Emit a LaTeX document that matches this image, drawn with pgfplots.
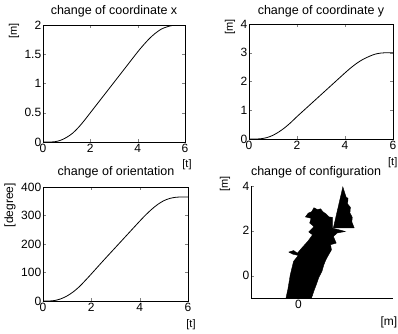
\documentclass[border=0pt]{standalone}
\usepackage{fontspec}
\setmainfont{Liberation Sans}
\usepackage{pgfplots}
\pgfplotsset{compat=1.18}
\pgfplotsset{
  every axis/.append style={
    scale only axis,
    anchor=south west,
    /pgf/number format/assume math mode=true,
    tick label style={font=\fontsize{12}{13}\selectfont},
    xticklabel style={inner sep=1.5pt},
    yticklabel style={inner sep=1.5pt},
    tick align=inside,
    major tick length=3pt,
    line width=0.6pt,
    axis line style={line width=0.8pt},
  },
}
\begin{document}
\begin{tikzpicture}
\path[use as bounding box] (0,0) rectangle (398pt,333pt);
% top left
\begin{axis}[at={(43pt,191pt)}, width=142pt, height=117pt,
  xmin=0, xmax=6, ymin=0, ymax=2,
  xtick={0,2,4,6}, ytick={0,0.5,1,1.5,2}]
\addplot[black, smooth, line width=0.8pt] coordinates {
(0,0) (0.25,0) (0.5,0.005) (0.75,0.03) (1,0.08) (1.25,0.15) (1.5,0.25) (1.75,0.37) (2,0.5) (2.5,0.76) (3,1.02) (3.5,1.28) (4,1.54) (4.25,1.66) (4.5,1.77) (4.75,1.86) (5,1.93) (5.25,1.97) (5.5,1.995) (5.75,2.0) (6,2.0)};
\end{axis}
% top right
\begin{axis}[at={(249pt,194pt)}, width=144pt, height=115pt,
  xmin=0, xmax=6, ymin=0, ymax=4,
  xtick={0,2,4,6}, ytick={0,1,2,3,4}]
\addplot[black, smooth, line width=0.8pt] coordinates {
(0,0) (0.25,0) (0.5,0.01) (0.75,0.05) (1,0.13) (1.25,0.25) (1.5,0.4) (1.75,0.58) (2,0.78) (2.5,1.16) (3,1.54) (3.5,1.92) (4,2.3) (4.25,2.48) (4.5,2.64) (4.75,2.77) (5,2.87) (5.25,2.95) (5.5,2.99) (5.75,3.0) (6,3.0)};
\end{axis}
% bottom left
\begin{axis}[at={(43pt,32pt)}, width=145pt, height=114pt,
  xmin=0, xmax=6, ymin=0, ymax=400,
  xtick={0,2,4,6}, ytick={0,100,200,300,400}]
\addplot[black, smooth, line width=0.8pt] coordinates {
(0,0) (0.25,0) (0.5,2) (0.75,8) (1,18) (1.25,32) (1.5,50) (1.75,72) (2,95) (2.5,142) (3,188) (3.5,234) (4,280) (4.25,302) (4.5,322) (4.75,339) (5,352) (5.25,360) (5.5,364) (5.75,365) (6,365)};
\end{axis}
% bottom right
\begin{axis}[at={(251pt,35pt)}, width=142pt, height=112pt,
  axis lines*=left,
  xmin=-1, xmax=2, ymin=-1, ymax=4,
  xtick={0}, ytick={0,2,4}]
\addplot[black, fill=black, line width=0.4pt] coordinates {
(-0.26,-0.99) (-0.22,-0.6) (-0.17,0.04) (-0.1,0.64) (0.0,0.9) (-0.12,0.96) (-0.2,1.05) (-0.1,1.12) (-0.02,1.0) (0.08,1.25) (0.2,1.53) (0.3,1.82) (0.22,1.95) (0.33,2.19) (0.24,2.35) (0.27,2.56) (0.15,2.62) (0.21,2.79) (0.28,2.85) (0.33,3.03) (0.40,2.95) (0.47,2.98) (0.52,2.85) (0.58,2.76) (0.65,2.62) (0.72,2.6) (0.72,2.12) (0.85,2.05) (0.99,1.97) (0.82,1.90) (0.74,1.75) (0.8,1.45) (0.68,1.38) (0.7,1.15) (0.64,0.93) (0.58,0.7) (0.54,0.49) (0.5,0.2) (0.43,-0.10) (0.38,-0.4) (0.34,-0.62) (0.28,-0.99)} -- cycle;
\addplot[black, fill=black, line width=0.4pt] coordinates {
(0.74,2.13) (0.94,3.96) (1.01,3.5) (1.05,3.45) (1.04,3.2) (1.1,3.05) (1.09,2.8) (1.14,2.6) (1.13,2.4) (1.18,2.13)} -- cycle;
\end{axis}
% titles
\node[font=\fontsize{12.5}{14}\selectfont] at (114pt,322pt) {change of coordinate x};
\node[font=\fontsize{12.5}{14}\selectfont] at (321pt,322pt) {change of coordinate y};
\node[font=\fontsize{12.5}{14}\selectfont] at (116pt,161pt) {change of orientation};
\node[font=\fontsize{12.5}{14}\selectfont] at (316pt,161pt) {change of configuration};
% axis unit labels
\node[rotate=90, font=\fontsize{11}{12}\selectfont] at (14pt,302pt) {[m]};
\node[font=\fontsize{11}{12}\selectfont] at (187pt,168pt) {[t]};
\node[rotate=90, font=\fontsize{11}{12}\selectfont] at (230pt,306pt) {[m]};
\node[anchor=east, inner sep=0pt, font=\fontsize{11}{12}\selectfont] at (397.5pt,170pt) {[t]};
\node[rotate=90, font=\fontsize{12}{13}\selectfont] at (10pt,128pt) {[degree]};
\node[font=\fontsize{11}{12}\selectfont] at (191pt,8pt) {[t]};
\node[rotate=90, font=\fontsize{11}{12}\selectfont] at (225pt,149pt) {[m]};
\node[anchor=east, inner sep=0pt, font=\fontsize{12}{13}\selectfont] at (397.5pt,11pt) {[m]};
\end{tikzpicture}
\end{document}
